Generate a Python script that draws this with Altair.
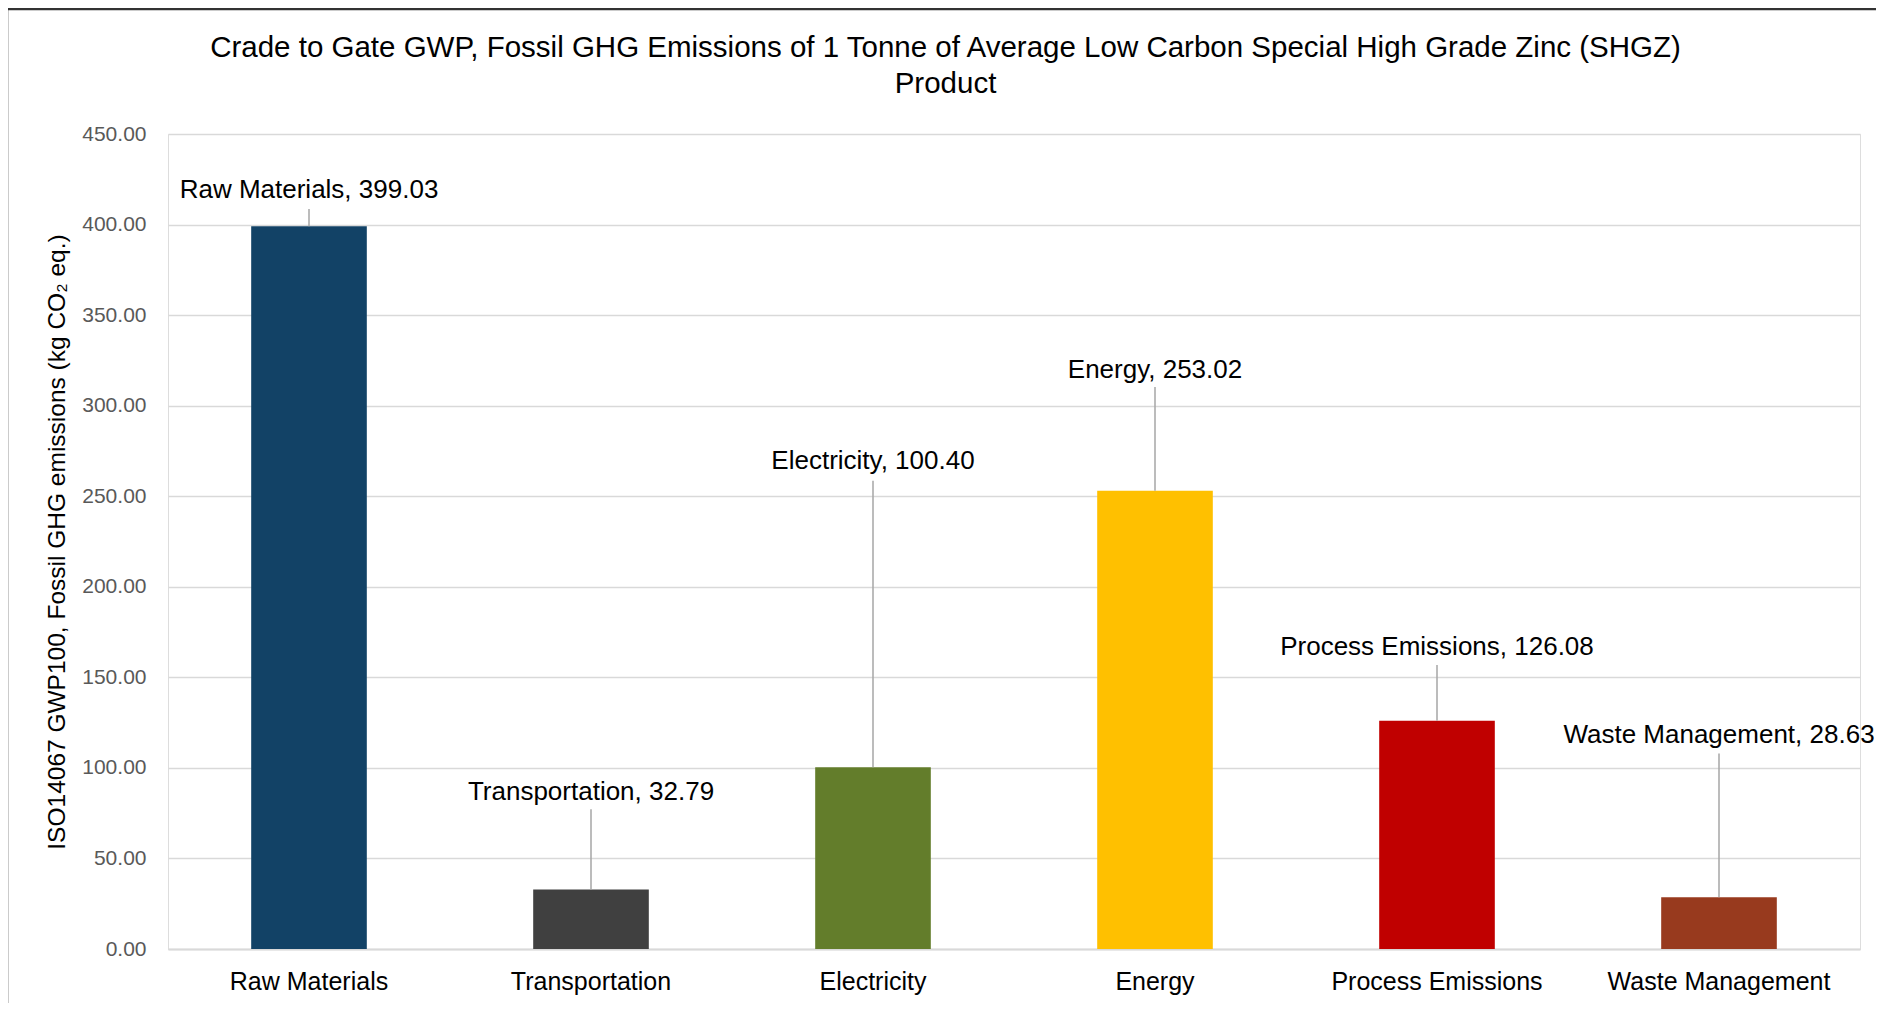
import altair as alt
import pandas as pd

categories = ["Raw Materials", "Transportation", "Electricity", "Energy",
              "Process Emissions", "Waste Management"]
values = [399.03, 32.79, 100.40, 253.02, 126.08, 28.63]
# label centre heights and leader-line tops, in data units
label_y = [419.0, 86.9, 269.2, 319.7, 166.9, 118.2]
leader_top = [408.6, 77.1, 258.6, 310.3, 156.8, 108.0]
colors = ["#124266", "#404040", "#637d2b", "#ffc000", "#c00000", "#983a1e"]
y_ticks = [0, 50, 100, 150, 200, 250, 300, 350, 400, 450]

df = pd.DataFrame({
    "category": categories,
    "value": values,
    "label_y": label_y,
    "leader_top": leader_top,
})
df["label"] = [f"{c}, {v:.2f}" for c, v in zip(categories, values)]

FONT = "Liberation Sans"

x_enc = alt.X(
    "category:N", sort=categories,
    scale=alt.Scale(paddingInner=0.59, paddingOuter=0.295),
    axis=alt.Axis(title=None, labelAngle=0, labelFontSize=25, labelColor="#000000",
                  labelFont=FONT, labelPadding=20, labelLimit=0, ticks=False, grid=False,
                  domainColor="#d9d9d9", domainWidth=2),
)
y_scale = alt.Scale(domain=[0, 450], nice=False)

base = alt.Chart(df)

bars = base.mark_bar().encode(
    x=x_enc,
    y=alt.Y("value:Q", scale=y_scale,
            axis=alt.Axis(values=y_ticks, format=".2f",
                          title="ISO14067 GWP100, Fossil GHG emissions (kg CO\u2082 eq.)",
                          titleFontSize=24.5, titleFont=FONT, titleFontWeight="normal",
                          titleColor="#000000", titlePadding=12,
                          labelFontSize=21, labelFont=FONT, labelColor="#595959",
                          labelPadding=22, ticks=False, domain=False,
                          gridColor="#d9d9d9", gridWidth=1.5)),
    color=alt.Color("category:N", scale=alt.Scale(domain=categories, range=colors),
                    legend=None),
)

leaders = base.mark_rule(color="#a6a6a6", strokeWidth=1.5).encode(
    x=alt.X("category:N", sort=categories),
    y=alt.Y("leader_top:Q", scale=y_scale),
    y2="value:Q",
)

labels = base.mark_text(fontSize=26, font=FONT, baseline="middle", align="center",
                        color="#000000").encode(
    x=alt.X("category:N", sort=categories),
    y=alt.Y("label_y:Q", scale=y_scale),
    text="label:N",
)

frame_df = pd.DataFrame({"k": [0]})
top_border = alt.Chart(frame_df).mark_rule(color="#333333", strokeWidth=2.5).encode(
    x=alt.value(-161), x2=alt.value(1716), y=alt.value(-125))
left_border = alt.Chart(frame_df).mark_rule(color="#333333", strokeWidth=2.5).encode(
    x=alt.value(-161), y=alt.value(-125), y2=alt.value(880))

chart = alt.layer(bars, leaders, labels, top_border, left_border).properties(
    width=1692, height=815,
    autosize=alt.AutoSizeParams(type="none"),
    padding={"left": 160, "top": 126, "right": 16, "bottom": 54},
    title=alt.TitleParams(
        ["Crade to Gate GWP, Fossil GHG Emissions of 1 Tonne of Average Low Carbon Special High Grade Zinc (SHGZ)",
         "Product"],
        fontSize=29.5, font=FONT, fontWeight="normal", color="#000000",
        anchor="middle", frame="bounds", lineHeight=36, offset=-92),
).configure_view(stroke=None).configure(background="#ffffff")

chart.save("out.html", embed_options={"renderer": "svg", "actions": False})
